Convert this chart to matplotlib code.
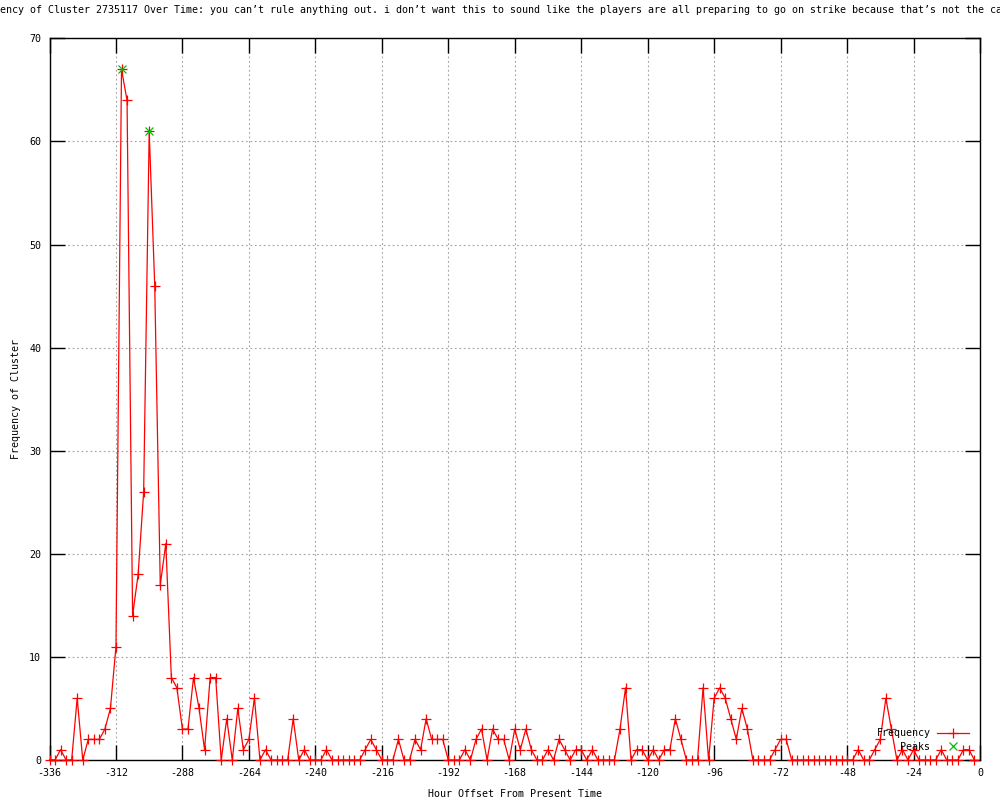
import numpy as np
import matplotlib
matplotlib.use("Agg")
import matplotlib.pyplot as plt
from matplotlib.lines import Line2D

# hour offsets, every 2 hours from -336 to -2
hours = list(range(-336, 0, 2))

freq = [
    0, 0, 1, 0, 0, 6, 0, 2, 2, 2, 3, 5, 11,          # -336 .. -312
    67, 64, 14, 18, 26, 61, 46, 17, 21, 8, 7,         # -310 .. -290
    3, 3, 8, 5, 1, 8, 8, 0, 4, 0, 5, 1,               # -288 .. -266
    2, 6, 0, 1, 0, 0, 0, 0, 4, 0, 1, 0,               # -264 .. -242
    0, 0, 1, 0, 0, 0, 0, 0, 0, 1, 2, 1,               # -240 .. -218
    0, 0, 0, 2, 0, 0, 2, 1, 4, 2, 2, 2,               # -216 .. -194
    0, 0, 0, 1, 0, 2, 3, 0, 3, 2, 2, 0,               # -192 .. -170
    3, 1, 3, 1, 0, 0, 1, 0, 2, 1, 0, 1,               # -168 .. -146
    1, 0, 1, 0, 0, 0, 0, 3, 7, 0, 1, 1,               # -144 .. -122
    0, 1, 0, 1, 1, 4, 2, 0, 0, 0, 7, 0,               # -120 .. -98
    6, 7, 6, 4, 2, 5, 3, 0, 0, 0, 0, 1,               # -96 .. -74
    2, 2, 0, 0, 0, 0, 0, 0, 0, 0, 0, 0,               # -72 .. -50
    0, 0, 1, 0, 0, 1, 2, 6, 3, 0, 1, 0,               # -48 .. -26
    1, 0, 0, 0, 0, 1, 0, 0, 0, 1, 1, 0,               # -24 .. -2
]

peak_hours = [-310, -300]
peak_vals = [67, 61]

x_ticks = list(range(-336, 1, 24))
y_ticks = list(range(0, 71, 10))

title = ("Frequency of Cluster 2735117 Over Time: you can\u2019t rule anything out. "
         "i don\u2019t want this to sound like the players are all preparing to go on "
         "strike because that\u2019s not the case")

mono = "DejaVu Sans Mono"
fs = 7.2

fig = plt.figure(figsize=(10, 8), dpi=100)
ax = fig.add_axes([0.0495, 0.05, 0.9305, 0.902])

ax.plot(hours, freq, color="#ff0000", linewidth=0.9, marker="+",
        markersize=7, markeredgewidth=0.9, clip_on=False, zorder=3,
        label="Frequency")
ax.plot(peak_hours, peak_vals, linestyle="none", marker="x", color="#00c000",
        markersize=6, markeredgewidth=0.9, clip_on=False, zorder=4,
        label="Peaks")

ax.set_xlim(-336, 0)
ax.set_ylim(0, 70)
ax.set_xticks(x_ticks)
ax.set_yticks(y_ticks)
ax.set_xticklabels([str(t) for t in x_ticks], family=mono, fontsize=fs)
ax.set_yticklabels([str(t) for t in y_ticks], family=mono, fontsize=fs)
ax.tick_params(direction="in", length=11, width=1, top=True, right=True,
               pad=6, colors="black")

ax.grid(True, color="#a0a0a0", linestyle=(0, (1.5, 2.5)), linewidth=0.8)
for s in ax.spines.values():
    s.set_linewidth(1)
    s.set_color("black")

ax.set_xlabel("Hour Offset From Present Time", family=mono, fontsize=fs, labelpad=8)
ax.set_ylabel("Frequency of Cluster", family=mono, fontsize=fs, labelpad=6)

fig.text(-0.030, 0.9875, title, ha="left", va="center", family=mono, fontsize=fs)

# legend in gnuplot style: text right aligned, sample to the right
handles = [
    Line2D([], [], color="#ff0000", linewidth=0.9, marker="+", markersize=7,
           markeredgewidth=0.9),
    Line2D([], [], color="#00c000", linestyle="none", marker="x", markersize=6,
           markeredgewidth=0.9),
]
leg = ax.legend(handles, ["Frequency", "Peaks"], loc="lower right",
                bbox_to_anchor=(0.993, 0.006), frameon=False,
                prop={"family": mono, "size": fs}, markerfirst=False,
                handlelength=3.2, handletextpad=0.7, labelspacing=0.35,
                borderaxespad=0)

fig.savefig("out.png", dpi=100, facecolor="white")
